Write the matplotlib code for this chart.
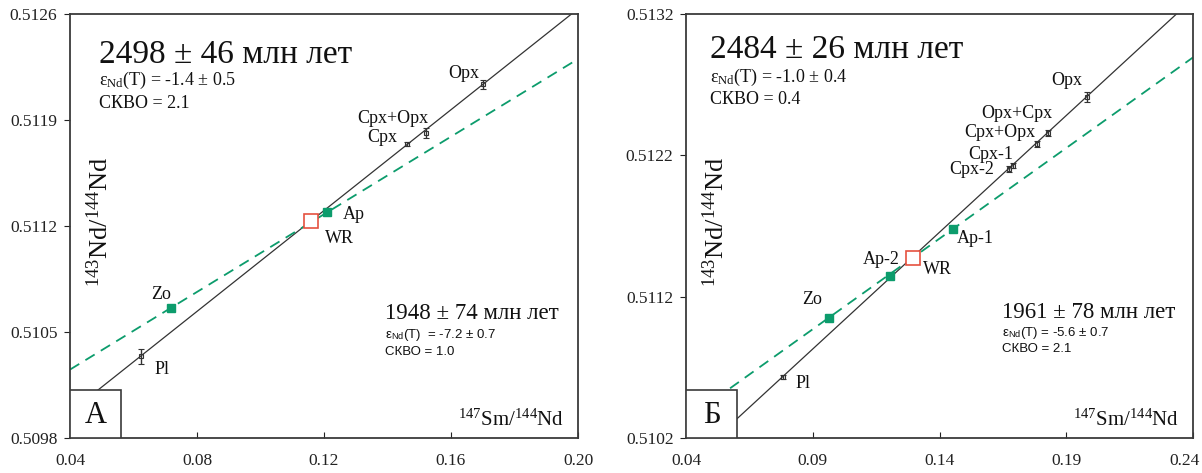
import matplotlib
matplotlib.use('Agg')
import matplotlib.pyplot as plt
import matplotlib.transforms as mtrans
from matplotlib.patches import Rectangle
import numpy as np

plt.rcParams['font.family'] = ['Liberation Serif', 'DejaVu Serif']
plt.rcParams['mathtext.fontset'] = 'custom'
plt.rcParams['mathtext.rm'] = 'Liberation Serif'
plt.rcParams['mathtext.it'] = 'Liberation Serif:italic'
plt.rcParams['mathtext.sf'] = 'Liberation Sans'

# ---------------- Panel A data ----------------
a_labels = ['Opx', 'Cpx+Opx', 'Cpx', 'Pl']
a_x = [0.1701, 0.1520, 0.1460, 0.0623]
a_y = [0.512136, 0.511812, 0.511739, 0.510341]
a_err = [0.000028, 0.000032, 0.000014, 0.000050]
a_g_labels = ['Ap', 'Zo']
a_g_x = [0.1210, 0.0717]
a_g_y = [0.511290, 0.510658]
a_wr_x = [0.1160]
a_wr_y = [0.511235]
a_iso_main = [0.509304, 0.01665]   # intercept, slope
a_iso_green = [0.509739, 0.01282]
a_xticks = [0.04, 0.08, 0.12, 0.16, 0.20]
a_yticks = [0.5098, 0.5105, 0.5112, 0.5119, 0.5126]
a_age1 = '2498 ± 46 млн лет'
a_eps1 = 'ε$_{\\mathrm{Nd}}$(T) = -1.4 ± 0.5'
a_msw1 = 'СКВО = 2.1'
a_age2 = '1948 ± 74 млн лет'
a_eps2 = 'ε$_{\\mathsf{Nd}}$(T)  = -7.2 ± 0.7'
a_msw2 = 'СКВО = 1.0'

# ---------------- Panel B data ----------------
b_labels = ['Opx', 'Opx+Cpx', 'Cpx+Opx', 'Cpx-1', 'Cpx-2', 'Pl']
b_x = [0.1981, 0.1827, 0.1786, 0.1689, 0.1674, 0.0782]
b_y = [0.512615, 0.512356, 0.512280, 0.512127, 0.512101, 0.510634]
b_err = [0.000035, 0.000020, 0.000020, 0.000020, 0.000020, 0.000014]
b_g_labels = ['Ap-1', 'Ap-2', 'Zo']
b_g_x = [0.1455, 0.1205, 0.0963]
b_g_y = [0.511681, 0.511348, 0.511051]
b_wr_x = [0.1294]
b_wr_y = [0.511476]
b_iso_main = [0.509343, 0.01652]
b_iso_green = [0.509816, 0.01282]
b_xticks = [0.04, 0.09, 0.14, 0.19, 0.24]
b_yticks = [0.5102, 0.5112, 0.5122, 0.5132]
b_age1 = '2484 ± 26 млн лет'
b_eps1 = 'ε$_{\\mathrm{Nd}}$(T) = -1.0 ± 0.4'
b_msw1 = 'СКВО = 0.4'
b_age2 = '1961 ± 78 млн лет'
b_eps2 = 'ε$_{\\mathsf{Nd}}$(T) = -5.6 ± 0.7'
b_msw2 = 'СКВО = 2.1'

# label offsets (pixels, x right / y up)
a_off = {'Opx': (-19, 11), 'Cpx+Opx': (-33, 15), 'Cpx': (-24, 7), 'Pl': (21, -13),
         'Ap': (27, -2), 'Zo': (-10, 14), 'WR': (28, -18)}
b_off = {'Opx': (-20, 16), 'Opx+Cpx': (-31, 20), 'Cpx+Opx': (-38, 12), 'Cpx-1': (-22, 11),
         'Cpx-2': (-37, 0), 'Pl': (20, -7), 'Ap-1': (22, -10), 'Ap-2': (-9, 16),
         'Zo': (-17, 18), 'WR': (25, -12)}

GREEN = '#0c9c6c'
RED = '#e5513f'
DARK = '#333333'
SPINE = '#3a3a3a'

fig = plt.figure(figsize=(12.02, 4.73), dpi=100)
axA = fig.add_axes([70/1202, 35/473, 508/1202, 424/473])
axB = fig.add_axes([686/1202, 35/473, 507/1202, 424/473])


def draw(ax, xt, yt, labels, xs, ys, errs, glabels, gx, gy, wrx, wry, iso1, iso2,
         offs, t1, t2, t3, t4, t5, t6, letter, top_pos, bot_pos, ylab_y):
    ax.set_xlim(xt[0], xt[-1])
    ax.set_ylim(yt[0], yt[-1])
    xx = np.array([xt[0], xt[-1]])
    ax.plot(xx, iso1[0] + iso1[1] * xx, color=DARK, lw=0.9, zorder=2)
    ax.plot(xx, iso2[0] + iso2[1] * xx, color=GREEN, lw=1.3,
            linestyle=(0, (6, 4)), zorder=2)
    ax.errorbar(xs, ys, yerr=errs, fmt='s', ms=3.2, mfc='none', mec=DARK, mew=0.8,
                ecolor=DARK, elinewidth=1.0, capsize=2.3, capthick=1.0, zorder=3)
    ax.plot(gx, gy, 's', ms=6.3, color=GREEN, mec=GREEN, zorder=4)
    ax.plot(wrx, wry, 's', ms=10, mfc='white', mec=RED, mew=1.2, zorder=4)
    for lab, x, y in list(zip(labels, xs, ys)) + list(zip(glabels, gx, gy)) + \
            [('WR', wrx[0], wry[0])]:
        dx, dy = offs[lab]
        ax.annotate(lab, (x, y), xytext=(dx * 0.72, dy * 0.72), textcoords='offset points',
                    ha='center', va='center', fontsize=13, color='#111')

    ax.set_xticks(xt)
    ax.set_xticklabels(['%.2f' % v for v in xt])
    ax.set_yticks(yt)
    ax.set_yticklabels(['%.4f' % v for v in yt])
    ax.tick_params(axis='x', direction='in', length=4, width=0.8, pad=11,
                   labelsize=12.5, colors='#222')
    ax.tick_params(axis='y', direction='out', length=4, width=0.8, pad=5,
                   labelsize=12.5, colors='#222')
    for s in ax.spines.values():
        s.set_color(SPINE)
        s.set_linewidth(1.3)

    # box with letter
    ax.add_patch(Rectangle((0, 0), 0.101, 0.113, transform=ax.transAxes,
                           facecolor='white', edgecolor=SPINE, lw=1.2, zorder=6))
    ax.text(0.0505, 0.052, letter, transform=ax.transAxes, ha='center', va='center',
            fontsize=22, color='#111', zorder=7)

    # texts
    tx, ty1, ty2, ty3 = top_pos
    ax.text(tx, ty1, t1, transform=ax.transAxes, fontsize=24, va='baseline', color='#111')
    ax.text(tx, ty2, t2, transform=ax.transAxes, fontsize=13, va='baseline', color='#111')
    ax.text(tx, ty3, t3, transform=ax.transAxes, fontsize=13, va='baseline', color='#111')
    bx, by1, by2, by3 = bot_pos
    ax.text(bx, by1, t4, transform=ax.transAxes, fontsize=16.5, va='baseline', color='#111')
    ax.text(bx, by2, t5, transform=ax.transAxes, fontsize=9.5, va='baseline', color='#111',
            family=['Liberation Sans', 'DejaVu Sans'])
    ax.text(bx, by3, t6, transform=ax.transAxes, fontsize=9.5, va='baseline', color='#111',
            family=['Liberation Sans', 'DejaVu Sans'])

    ax.text(0.973, 0.028, '$^{147}$Sm/$^{144}$Nd', transform=ax.transAxes, ha='right',
            va='baseline', fontsize=15, color='#111')
    ax.text(0.058, ylab_y, '$^{143}$Nd/$^{144}$Nd', transform=ax.transAxes, ha='center',
            va='center', rotation=90, fontsize=19, color='#111')


draw(axA, a_xticks, a_yticks, a_labels, a_x, a_y, a_err, a_g_labels, a_g_x, a_g_y,
     a_wr_x, a_wr_y, a_iso_main, a_iso_green, a_off,
     a_age1, a_eps1, a_msw1, a_age2, a_eps2, a_msw2, 'А',
     (0.057, 0.884, 0.832, 0.779), (0.62, 0.281, 0.236, 0.196), 0.51)
draw(axB, b_xticks, b_yticks, b_labels, b_x, b_y, b_err, b_g_labels, b_g_x, b_g_y,
     b_wr_x, b_wr_y, b_iso_main, b_iso_green, b_off,
     b_age1, b_eps1, b_msw1, b_age2, b_eps2, b_msw2, 'Б',
     (0.047, 0.896, 0.840, 0.788), (0.623, 0.283, 0.241, 0.203), 0.51)

# keep the last x tick label of panel Б inside the figure
lbl = axB.get_xticklabels()[-1]
lbl.set_transform(lbl.get_transform() + mtrans.ScaledTranslation(-8/100, 0, fig.dpi_scale_trans))

fig.savefig('out.png', dpi=100)
